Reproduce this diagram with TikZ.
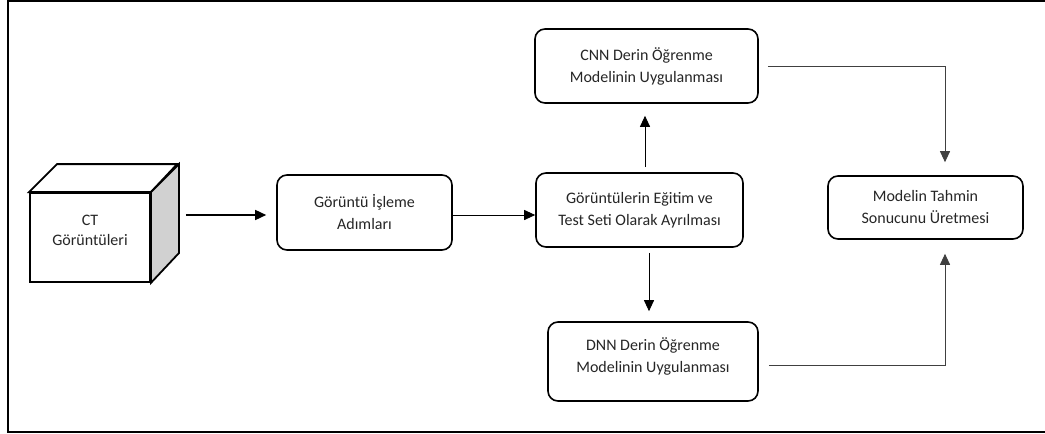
\documentclass[tikz,border=0pt]{standalone}
\usepackage{fontspec}
\setmainfont{Carlito}
\usetikzlibrary{arrows.meta,calc}
\begin{document}
\begin{tikzpicture}[x=1pt,y=-1pt,
  txt/.style={align=center,font=\fontsize{16}{22}\selectfont,text=black!85,inner sep=0pt},
  box/.style={txt,draw=black,line width=1.6pt,rounded corners=10pt,fill=white},
  cubeline/.style={draw=black,line width=1.8pt,line join=miter},
  link/.style={line width=0.9pt,draw=black,-{Triangle[length=11pt,width=10pt]}},
  elbow/.style={link,draw=black!75}]
\useasboundingbox (0,0) rectangle (1045,434);

% outer frame, open on the right
\draw[line width=2pt] (1045,1) -- (8,1) -- (8,432) -- (1045,432);

% input data cube
\node[cubeline,fill=white,minimum width=120pt,minimum height=89pt,
      label={[txt,font=\fontsize{16}{20}\selectfont,yshift=7.5pt]center:CT\\Görüntüleri}]
      (ct) at (90,237.5) {};
\draw[cubeline,fill=white] (ct.north west) -- ++(28,-28) -- ++(120,0) -- (ct.north east) -- cycle;
\draw[cubeline,fill=black!18] (ct.north east) -- ++(28,-28) -- ++(0,89) -- (ct.south east) -- cycle;

% process boxes
\node[box,minimum width=175pt,minimum height=75pt] (gia) at (364.5,212.5)
  {Görüntü İşleme\\Adımları};
\node[box,minimum width=207pt,minimum height=74pt] (gev) at (639.5,210)
  {Görüntülerin Eğitim ve\\Test Seti Olarak Ayrılması};
\node[box,minimum width=223pt,minimum height=74pt] (cnn) at (646.5,66)
  {CNN Derin Öğrenme\\Modelinin Uygulanması};
\node[box,minimum width=210pt,minimum height=79pt,
      label={[txt,yshift=5pt]center:DNN Derin Öğrenme\\Modelinin Uygulanması}]
      (dnn) at (653,361.5) {};
\node[box,minimum width=195pt,minimum height=63pt] (mts) at (925.5,207.5)
  {Modelin Tahmin\\Sonucunu Üretmesi};

% connectors
\draw[link,line width=1.5pt,shorten <=35pt,shorten >=10pt] (ct.east |- 0,215) -- (gia.west |- 0,215);
\draw[link] (gia.east |- 0,215) -- (gev.west |- 0,215);
\draw[link,shorten <=5pt,shorten >=12pt] ([xshift=5.5pt]gev.north) -- ([xshift=5.5pt]gev.north |- cnn.south);
\draw[link,shorten <=5pt,shorten >=10pt] ([xshift=9.5pt]gev.south) -- ([xshift=9.5pt]gev.south |- dnn.north);
\draw[elbow,shorten <=9pt,shorten >=13pt] (cnn.east) -| ([xshift=19.5pt]mts.north);
\draw[elbow,shorten <=10pt,shorten >=14pt] ([yshift=-3.5pt]dnn.east) -| ([xshift=19.5pt]mts.south);
\end{tikzpicture}
\end{document}
